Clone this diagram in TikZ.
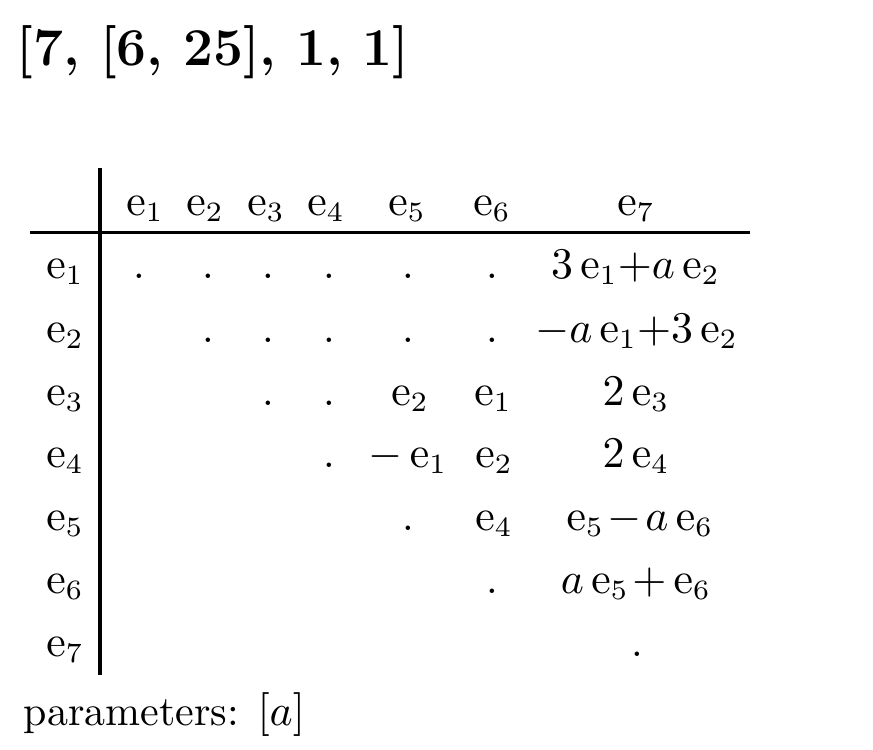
\documentclass[tikz,border=0pt]{standalone}
\begin{document}
\begin{tikzpicture}[x=0.25pt,y=-0.25pt,
  cell/.style={anchor=base,inner sep=0pt,font=\fontsize{10.5}{12}\selectfont},
  rule/.style={line width=0.85pt}]
\useasboundingbox (0,0) rectangle (873,749);
% title
\node[anchor=base west,inner sep=0pt,font=\fontsize{13.3}{15}\selectfont\bfseries] (title) at (16,65) {[7, [6, 25], 1, 1]};
% rules
\coordinate (vtop) at (100,168);
\coordinate (vbot) at (100,675);
\coordinate (hl) at (30,232.7);
\coordinate (hr) at (750,232.7);
\draw[rule] (vtop) -- (vbot);
\draw[rule] (hl) -- (hr);
% header
\node[cell] (h1) at (145,215) {$\mathrm{e}_1$};
\node[cell] (h2) at (205,215) {$\mathrm{e}_2$};
\node[cell] (h3) at (266,215) {$\mathrm{e}_3$};
\node[cell] (h4) at (326,215) {$\mathrm{e}_4$};
\node[cell] (h5) at (407,215) {$\mathrm{e}_5$};
\node[cell] (h6) at (492,215) {$\mathrm{e}_6$};
\node[cell] (h7) at (636,215) {$\mathrm{e}_7$};
% row labels
\node[cell] (r1) at (65,278) {$\mathrm{e}_1$};
\node[cell] (r2) at (65,342) {$\mathrm{e}_2$};
\node[cell] (r3) at (65,405) {$\mathrm{e}_3$};
\node[cell] (r4) at (65,467) {$\mathrm{e}_4$};
\node[cell] (r5) at (65,530) {$\mathrm{e}_5$};
\node[cell] (r6) at (65,593) {$\mathrm{e}_6$};
\node[cell] (r7) at (65,656) {$\mathrm{e}_7$};
% row 1
\node[cell] (c11) at (139,278) {.};
\node[cell] (c12) at (208,278) {.};
\node[cell] (c13) at (268,278) {.};
\node[cell] (c14) at (329,278) {.};
\node[cell] (c15) at (408,278) {.};
\node[cell] (c16) at (492,278) {.};
\node[cell] (c17) at (635.5,278) {$3\,\mathrm{e}_1{+}a\,\mathrm{e}_2$};
% row 2
\node[cell] (c22) at (208,342) {.};
\node[cell] (c23) at (268,342) {.};
\node[cell] (c24) at (329,342) {.};
\node[cell] (c25) at (408,342) {.};
\node[cell] (c26) at (492,342) {.};
\node[cell] (c27) at (636.5,342) {${-}a\,\mathrm{e}_1{+}3\,\mathrm{e}_2$};
% row 3
\node[cell] (c33) at (268,405) {.};
\node[cell] (c34) at (329,405) {.};
\node[cell] (c35) at (410,405) {$\mathrm{e}_2$};
\node[cell] (c36) at (493,405) {$\mathrm{e}_1$};
\node[cell] (c37) at (636,405) {$2\,\mathrm{e}_3$};
% row 4
\node[cell] (c44) at (329,467) {.};
\node[cell] (c45) at (408,467) {${-}\,\mathrm{e}_1$};
\node[cell] (c46) at (494,467) {$\mathrm{e}_2$};
\node[cell] (c47) at (636,467) {$2\,\mathrm{e}_4$};
% row 5
\node[cell] (c55) at (408,530) {.};
\node[cell] (c56) at (494,530) {$\mathrm{e}_4$};
\node[cell] (c57) at (640,530) {$\mathrm{e}_5\mskip1.5mu{-}\mskip1.5mu a\,\mathrm{e}_6$};
% row 6
\node[cell] (c66) at (492,593) {.};
\node[cell] (c67) at (636,593) {$a\,\mathrm{e}_5\mskip1.5mu{+}\,\mathrm{e}_6$};
% row 7
\node[cell] (c77) at (637,656) {.};
% parameters
\node[cell,anchor=base west] (params) at (23,725) {parameters: $[a]$};
\end{tikzpicture}
\end{document}
